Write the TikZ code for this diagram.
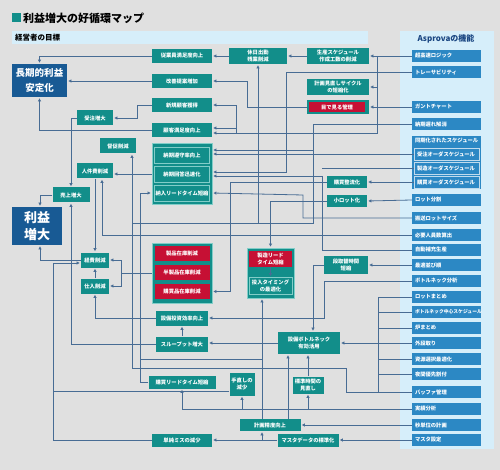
\documentclass[tikz,border=0pt]{standalone}
\usepackage{fontspec}
\setmainfont{Noto Sans CJK JP}
\usetikzlibrary{arrows.meta,positioning}
\definecolor{boxteal}{RGB}{18,142,138}
\definecolor{boxnavy}{RGB}{24,90,148}
\definecolor{boxred}{RGB}{198,16,52}
\definecolor{fnblue}{RGB}{44,136,196}
\definecolor{panelblue}{RGB}{214,238,250}
\definecolor{linkblue}{RGB}{72,108,148}
\definecolor{bggray}{RGB}{224,224,224}
\definecolor{rimteal}{RGB}{130,205,200}
\definecolor{headnavy}{RGB}{26,70,130}
\tikzset{
  goal/.style={fill=boxteal,text=white,inner sep=0pt,align=center,font=\fontsize{5.3}{6.6}\selectfont\bfseries},
  redgoal/.style={goal,fill=boxred},
  navygoal/.style={goal,fill=boxnavy},
  fn/.style={fill=fnblue,text=white,inner xsep=3pt,inner ysep=0pt,text width=63pt,minimum height=12pt,align=left,font=\fontsize{5.3}{6.6}\selectfont\bfseries},
  rim/.style={draw=rimteal,line width=0.5pt},
  link/.style={draw=linkblue,line width=0.8pt,-{Triangle[length=3pt,width=3pt]},shorten >=1.2pt},
  wire/.style={draw=linkblue,line width=0.8pt}
}
\begin{document}
\begin{tikzpicture}[x=1pt,y=-1pt]
\useasboundingbox (0,0) rectangle (500,470);
\fill[bggray] (0,0) rectangle (500,470);
%Title and the two headers
\fill[boxteal] (12,13) rectangle (21,22);
\node[anchor=west,inner sep=0pt,font=\fontsize{11}{12}\selectfont\bfseries] (title) at (23,18) {利益増大の好循環マップ};
\fill[panelblue] (12,31) rectangle (368,44);
\node[anchor=west,inner sep=0pt,font=\fontsize{7.5}{8}\selectfont\bfseries] (ownerhead) at (15,38) {経営者の目標};
\fill[panelblue] (400,31) rectangle (494,449);
\node[inner sep=0pt,text=headnavy,font=\fontsize{8}{9}\selectfont\bfseries] (asphead) at (446,39) {Asprovaの機能};
%Asprova functions
\foreach \y/\n/\t in {56/fLogic/超高速ロジック,72/fTrace/トレーサビリティ,107/fGantt/ガントチャート,
  124/fDelay/納期遅れ解消,200/fLotSplit/ロット分割,218/fLotSize/搬送ロットサイズ,
  235/fStaff/必要人員数算出,250/fReplen/自動補充生産,265/fSeq/最適並び順,
  281/fBnAna/ボトルネック分析,297/fLotMerge/ロットまとめ,
  328/fFurnace/炉まとめ,343/fExtSetup/外段取り,359/fResSel/資源選択最適化,
  374/fNight/夜間優先割付,392/fBuffer/バッファ管理,409/fActual/実績分析,
  425/fSecond/秒単位の計画,440/fMaster/マスタ設定} {
  \node[fn] (\n) at (446.5,\y) {\t};
}
\node[fn,font=\fontsize{4.8}{6}\selectfont\bfseries] (fBnSched) at (446.5,312) {ボトルネック中心スケジュール};
%Synchronised schedules
\node[fn,minimum height=53pt,text depth=44pt] (fSync) at (446.5,162.5) {同期化されたスケジュール};
\node[fn,draw=white!70!fnblue,line width=0.5pt,text width=59pt,minimum height=12pt] (fSyncJ) at (446.5,154) {受注オーダスケジュール};
\node[fn,draw=white!70!fnblue,line width=0.5pt,text width=59pt,minimum height=12pt] (fSyncM) at (446.5,168) {製造オーダスケジュール};
\node[fn,draw=white!70!fnblue,line width=0.5pt,text width=59pt,minimum height=12pt] (fSyncP) at (446.5,182) {購買オーダスケジュール};
%Owner goals
\node[navygoal,minimum width=55pt,minimum height=33pt,font=\fontsize{9.5}{15}\selectfont\bfseries] (longterm) at (39.5,80.5) {長期的利益\\安定化};
\node[navygoal,minimum width=50pt,minimum height=38pt,font=\fontsize{13}{17}\selectfont\bfseries] (profit) at (37,226) {利益\\増大};
\node[goal,minimum width=60pt,minimum height=14pt] (emp) at (182,56) {従業員満足度向上};
\node[goal,minimum width=60pt,minimum height=14pt] (kaizen) at (182,81) {改善提案増加};
\node[goal,minimum width=60pt,minimum height=14pt] (newcust) at (182,105) {新規顧客獲得};
\node[goal,minimum width=60pt,minimum height=14pt] (custsat) at (182,130) {顧客満足度向上};
\node[goal,rim,minimum width=60pt,minimum height=61pt] (delivgrp) at (182,173.5) {};
\node[goal,rim,minimum width=55pt,minimum height=16pt] (delivA) at (182,155) {納期遵守率向上};
\node[goal,rim,minimum width=55pt,minimum height=16pt] (delivB) at (182,174) {納期回答迅速化};
\node[goal,rim,minimum width=55pt,minimum height=16pt] (delivC) at (182,193) {納入リードタイム短縮};
\node[goal,minimum width=36pt,minimum height=15pt] (order) at (95,118) {受注増大};
\node[goal,minimum width=36pt,minimum height=15pt] (dun) at (118,146) {督促削減};
\node[goal,minimum width=36pt,minimum height=15pt] (labor) at (95,171) {人件費削減};
\node[goal,minimum width=37pt,minimum height=15pt] (sales) at (71,195) {売上増大};
\node[goal,minimum width=28pt,minimum height=15pt] (expense) at (95,260) {経費削減};
\node[goal,minimum width=28pt,minimum height=15pt] (purch) at (95,286) {仕入削減};
%Inventory group
\node[goal,rim,minimum width=60pt,minimum height=60pt] (invgrp) at (182,273) {};
\node[redgoal,minimum width=55pt,minimum height=15pt] (invA) at (182,253.5) {製品在庫削減};
\node[redgoal,minimum width=55pt,minimum height=15pt] (invB) at (182,272.5) {半製品在庫削減};
\node[redgoal,minimum width=55pt,minimum height=15pt] (invC) at (182,291.5) {購買品在庫削減};
\node[goal,minimum width=52pt,minimum height=15pt] (capex) at (182,318) {設備投資効率向上};
\node[goal,minimum width=52pt,minimum height=15pt] (thru) at (182,344) {スループット増大};
\node[goal,minimum width=67pt,minimum height=13pt] (purchLT) at (182,382) {購買リードタイム短縮};
\node[goal,minimum width=60pt,minimum height=13pt] (mistake) at (182,440) {単純ミスの減少};
%Middle column
\node[goal,minimum width=58pt,minimum height=16pt] (holiday) at (258,56) {休日出勤\\残業削減};
\node[goal,minimum width=62pt,minimum height=16pt] (schedwork) at (338,56) {生産スケジュール\\作成工数の削減};
\node[goal,minimum width=62pt,minimum height=16pt] (cycle) at (338,87) {計画見直しサイクル\\の短縮化};
\node[goal,minimum width=62pt,minimum height=14pt] (visual) at (338,107) {};
\node[redgoal,minimum width=56pt,minimum height=10pt] (visualin) at (337,107) {目で見る管理};
\node[goal,minimum width=40pt,minimum height=12pt] (purchflow) at (347,182) {購買整流化};
\node[goal,minimum width=40pt,minimum height=12pt] (smalllot) at (347,201) {小ロット化};
\node[goal,minimum width=44pt,minimum height=18pt] (setup) at (346,265) {段取替時間\\短縮};
\node[goal,rim,minimum width=47pt,minimum height=50pt] (mfggrp) at (270.5,273) {};
\node[redgoal,minimum width=43pt,minimum height=16pt] (mfgLT) at (270.5,259) {製造リード\\タイム短縮};
\node[goal,rim,minimum width=43pt,minimum height=17pt] (timing) at (270.5,286) {投入タイミング\\の最適化};
\node[goal,minimum width=62pt,minimum height=22pt] (bneck) at (309,343) {設備ボトルネック\\有効活用};
\node[goal,minimum width=25pt,minimum height=23pt] (rework) at (242,384) {手直しの\\減少};
\node[goal,minimum width=31pt,minimum height=17pt] (stdtime) at (308,385) {標準時間の\\見直し};
\node[goal,minimum width=61pt,minimum height=12pt] (accuracy) at (270,425) {計画精度向上};
\node[goal,minimum width=61pt,minimum height=13pt] (masterdata) at (308,440) {マスタデータの標準化};
%Links into the two top goals
\draw[link] (emp.west) -| (longterm.north);
\draw[link] (kaizen.west) -- (kaizen.west -| longterm.east);
\draw[link] (custsat.west) -| (longterm.south);
\draw[link] (newcust.west) -| (137,118) -- (order.east);
\draw[link] (order.west) -| (sales.north);
\draw[link] (sales.west) -| ([xshift=3pt]profit.north);
\draw[link] (expense.west) -| ([xshift=3pt]profit.south);
\draw[link] (purch.north) -- (expense.south);
\draw[link] (labor.south) -- (expense.north);
\draw[link] (delivgrp.west |- delivB.west) -- (delivB.west -| labor.east);
\draw[link] (fStaff.west) -| ([xshift=7pt]labor.south);
\draw[link] (thru.west) -| (sales.south);
%Mistakes and rework
\coordinate (mistakebus) at (53,263);
\draw[link] (mistake.west) -| (mistakebus) -- (mistakebus -| expense.west);
\draw[wire] ([yshift=-7pt]rework.west) -- ([yshift=-7pt]rework.west -| mistakebus);
\draw[link] (purchLT.west) -| (140,193) -- (delivgrp.west |- delivC);
%Top row
\draw[link] (holiday.west) -- (emp.east);
\draw[link] (schedwork.west) -- (holiday.east);
\draw[link] (fLogic.west) -- (schedwork.east);
\draw[link] (visual.west) -| (247,81) -- (kaizen.east);
\draw[link] (fGantt.west) -- (visual.east);
\coordinate (logicbus) at (377,56);
\draw[link] (logicbus) |- ([yshift=-3pt]custsat.east);
\draw[link] (logicbus |- cycle.east) -- (cycle.east);
%Delivery lines
\coordinate (dunbus) at (132,223);
\draw[link] (fDelay.west) -| (313,223) -- (dunbus) -- (dunbus |- dun.south);
\draw[link] (holiday.south |- dunbus) -- (holiday.south);
\draw[link] (313,150) -- (delivgrp.east |- 0,150);
\draw[link] (fSyncJ.west) -- (delivgrp.east |- fSyncJ.west);
\draw[link] (fTrace.west) -| (286,172) -- (delivgrp.east |- 0,172);
\draw[link] (fReplen.west) -| (322,176) -- (delivgrp.east |- 0,176);
\draw[wire] (fSyncM.west) -- (322,168);
\draw[link] (fLotSize.west) -| (303,195) -- (delivgrp.east |- delivC);
\draw[link] (236,133) -- (236,105) -- (newcust.east);
\draw[link] (236,128) -- (custsat.east |- 0,128);
%Purchase and lots
\draw[link] (fSyncP.west) -- (fSyncP.west -| purchflow.east);
\draw[link] (fLotSplit.west) -- (smalllot.east);
\draw[link] (fSeq.west) -- (setup.east);
\draw[link] (setup.west) -| ([xshift=4pt]bneck.north);
\coordinate (purchdrop) at (230,182);
\draw[link] (purchflow.west) -- (purchdrop) |- (invgrp.east |- invC);
\draw[link] (smalllot.west) -| (mfggrp.north);
\draw[link] (mfgLT.south) -- (timing.north);
%Bottleneck bus
\coordinate (bnbus) at (378,297);
\draw[wire] (fLotMerge.west) -- (bnbus) -- (bnbus |- fBuffer.west) -- (fBuffer.west);
\foreach \n in {fBnSched,fFurnace,fExtSetup,fResSel,fNight} {
  \draw[wire] (\n.west) -- (\n.west -| bnbus);
}
\draw[link] (bnbus |- bneck.east) -- (bneck.east);
\coordinate (capexbend) at (324,318);
\draw[link] (fBnAna.west) -| (capexbend) -- (capex.east);
\draw[link] (bneck.west) -- (bneck.west -| thru.east);
\draw[link] (thru.north) -- (capex.south);
\draw[link] (capex.west) -| (purch.south);
\coordinate (invfork) at (121,273);
\draw[wire] (invgrp.west) -- (invfork);
\draw[link] (invfork) |- (expense.east);
\draw[link] (invfork) |- (purch.east);
\draw[wire] (fBuffer.west) -| (346,368) -| (dunbus);
%Bottom area
\draw[link] ([xshift=-8pt]accuracy.north) -- ([xshift=-8pt]accuracy.north |- mfggrp.south);
\draw[wire] ([xshift=-8pt]accuracy.north |- 0,359) -- (140,359);
\draw[link] ([xshift=18pt]accuracy.north) -- ([xshift=18pt]accuracy.north |- bneck.south);
\draw[link] (stdtime.north) -- (stdtime.north |- bneck.south);
\draw[link] (fActual.west) -| (purchLT.south);
\draw[link] (rework.south |- fActual.west) -- (rework.south);
\draw[link] (stdtime.south |- fActual.west) -- (stdtime.south);
\draw[link] (fSecond.west) -- (accuracy.east);
\draw[link] (fMaster.west) -- (masterdata.east);
\draw[link] (masterdata.west) -- (mistake.east);
\draw[link] ([xshift=-8pt]accuracy.south |- masterdata.west) -- ([xshift=-8pt]accuracy.south);
\end{tikzpicture}
\end{document}
